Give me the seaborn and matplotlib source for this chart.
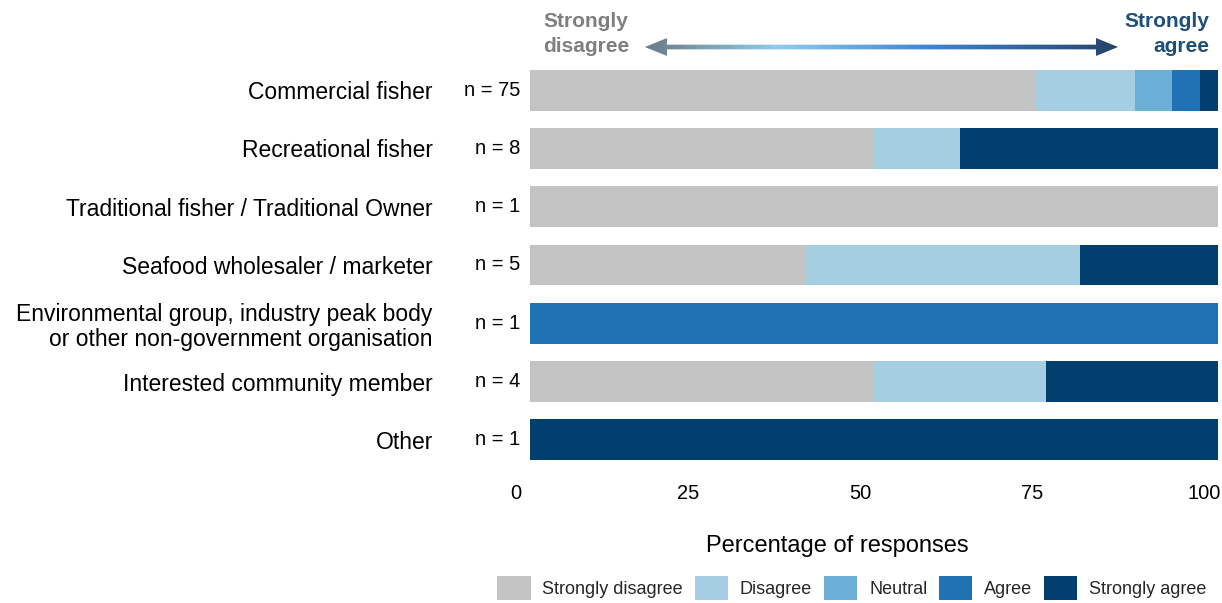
import numpy as np
import pandas as pd
import matplotlib
matplotlib.use("Agg")
import matplotlib.pyplot as plt
import seaborn as sns
from matplotlib.colors import LinearSegmentedColormap
from matplotlib.patches import Polygon, Patch
from matplotlib.transforms import blended_transform_factory, ScaledTranslation

# ---------------- data ----------------
categories = [
    "Commercial fisher",
    "Recreational fisher",
    "Traditional fisher / Traditional Owner",
    "Seafood wholesaler / marketer",
    "Environmental group, industry peak body\nor other non-government organisation",
    "Interested community member",
    "Other",
]
n_responses = [75, 8, 1, 5, 1, 4, 1]
levels = ["Strongly disagree", "Disagree", "Neutral", "Agree", "Strongly agree"]
strongly_disagree = [55, 4, 1, 2, 0, 2, 0]
disagree = [11, 1, 0, 2, 0, 1, 0]
neutral = [4, 0, 0, 0, 0, 0, 0]
agree = [3, 0, 0, 0, 1, 0, 0]
strongly_agree = [2, 3, 0, 1, 0, 1, 1]
colors = ["#C3C3C3", "#A6CEE3", "#6BAED6", "#2171B5", "#003F6E"]
x_ticks = [0, 25, 50, 75, 100]

counts = [strongly_disagree, disagree, neutral, agree, strongly_agree]
df = pd.DataFrame({"category": categories, "n": n_responses})
cum = np.zeros(len(categories))
for lvl, c in zip(levels, counts):
    pct = np.array(c) / np.array(n_responses) * 100
    cum = cum + pct
    df["cum_" + lvl] = cum

# ---------------- style ----------------
sns.set_theme(style="white")
plt.rcParams["font.family"] = ["Liberation Sans", "DejaVu Sans"]

W, H = 1222, 603
fig = plt.figure(figsize=(W / 100, H / 100), dpi=100)
ax = fig.add_axes([530 / W, 1 - 469 / H, 688 / W, 408 / H])

for k in reversed(range(len(levels))):
    sns.barplot(
        data=df, x="cum_" + levels[k], y="category", order=categories,
        color=colors[k], saturation=1, width=0.7, orient="h",
        errorbar=None, linewidth=0, ax=ax,
    )

ax.set_xlim(0, 100)
ax.set_xticks(x_ticks)
ax.set_xticklabels([str(t) for t in x_ticks])
for s in ax.spines.values():
    s.set_visible(False)
ax.tick_params(axis="x", length=0, pad=11, labelsize=14.5, colors="black")
ax.tick_params(axis="y", length=0, pad=70, labelsize=16.5, colors="black")
shift = ScaledTranslation(-14 / 100, 0, fig.dpi_scale_trans)
for lab in ax.get_xticklabels():
    lab.set_transform(lab.get_transform() + shift)
for lab in ax.get_yticklabels():
    lab.set_linespacing(1.1)
ax.set_ylabel("")
ax.set_xlabel("Percentage of responses", fontsize=17, color="black")
ax.xaxis.set_label_coords((837 - 530) / 688, (469 - 535) / 408)
ax.grid(False)

# n labels
tr = blended_transform_factory(ax.transAxes, ax.transData)
for i, n in enumerate(n_responses):
    ax.text(-0.0145, i, f"n = {n}", transform=tr, ha="right", va="center",
            fontsize=14.5, color="black")

# legend
handles = [Patch(facecolor=c, edgecolor="none") for c in colors]
fig.legend(handles, levels, loc="center", bbox_to_anchor=(852 / W, 1 - 588 / H),
           ncol=5, frameon=False, prop={"size": 13},
           handlelength=1.83, handleheight=1.75, handletextpad=0.66,
           columnspacing=0.66, borderaxespad=0, borderpad=0)

# top annotation texts
fig.text(543 / W, 1 - 34 / H, "Strongly\ndisagree", ha="left", va="center",
         fontsize=15, fontweight="bold", color="#7F7F7F", linespacing=1.35)
fig.text(1209 / W, 1 - 34 / H, "Strongly\nagree", ha="right", va="center",
         fontsize=15, fontweight="bold", color="#1F4E79", linespacing=1.35,
         multialignment="right")

# gradient double arrow
aax = fig.add_axes([645 / W, 1 - 56 / H, 473 / W, 18 / H])
aax.set_xlim(0, 1)
aax.set_ylim(0, 1)
aax.axis("off")
cmap = LinearSegmentedColormap.from_list(
    "arr", [(0, "#6B7B86"), (0.28, "#8FCDEB"), (0.6, "#3F83D6"), (1, "#26446A")])
im = aax.imshow(np.linspace(0, 1, 512)[None, :], extent=[0, 1, 0, 1],
                aspect="auto", cmap=cmap)
hl = 22 / 473
sh0, sh1 = 0.37, 0.63
poly = Polygon([(0, 0.5), (hl, 1), (hl, sh1), (1 - hl, sh1), (1 - hl, 1), (1, 0.5),
                (1 - hl, 0), (1 - hl, sh0), (hl, sh0), (hl, 0)],
               closed=True, facecolor="none", edgecolor="none", transform=aax.transData)
aax.add_patch(poly)
im.set_clip_path(poly)

fig.savefig("out.png", dpi=100)
